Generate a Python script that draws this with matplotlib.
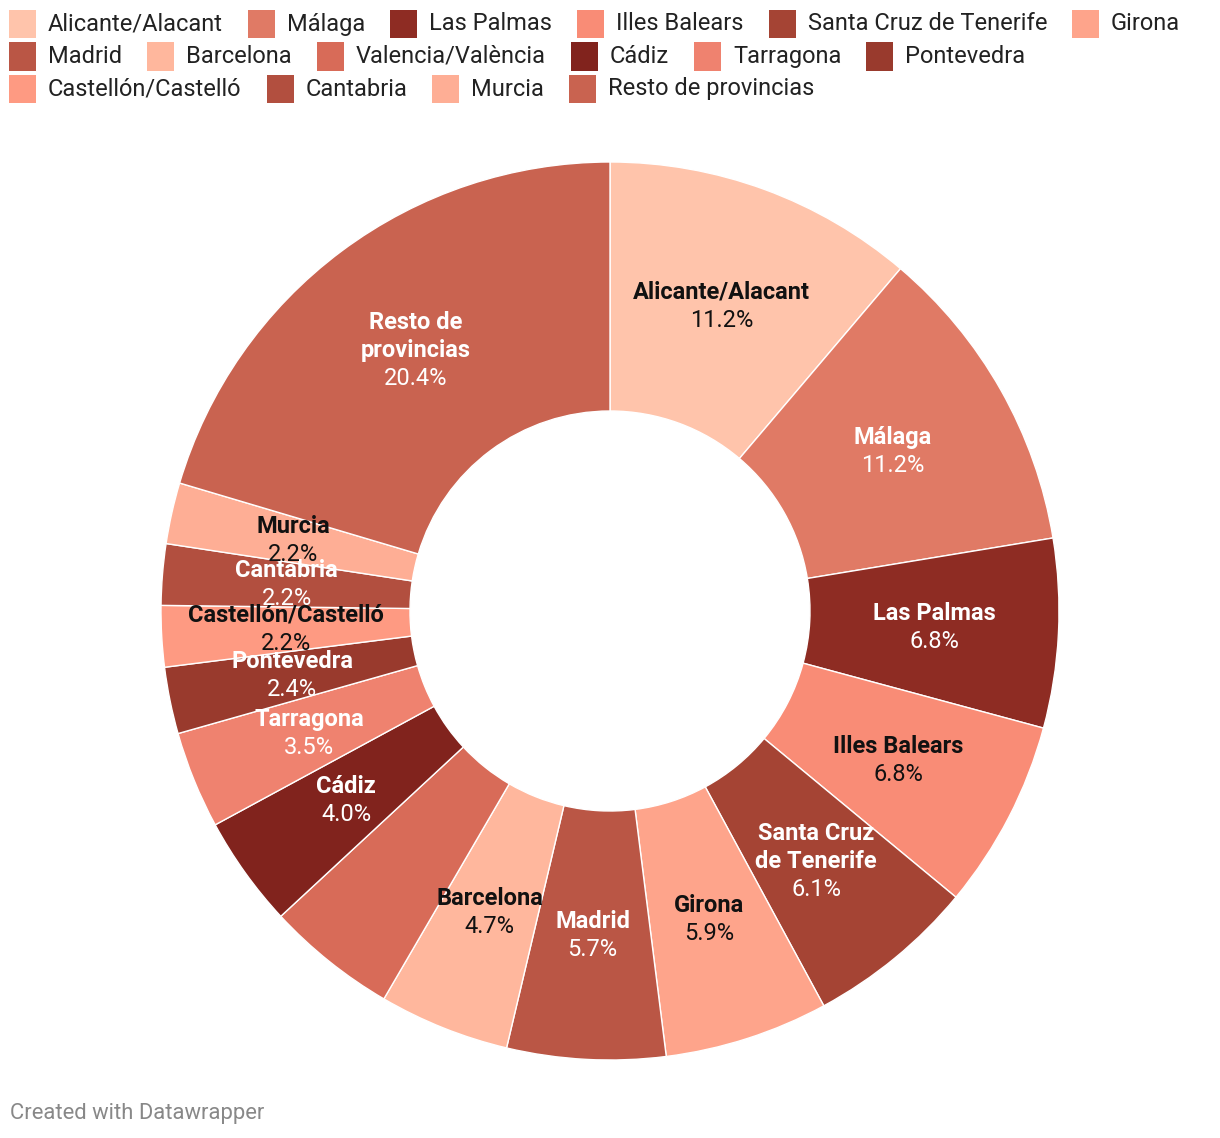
import matplotlib
matplotlib.use("Agg")
import matplotlib.pyplot as plt
from matplotlib.patches import Rectangle
import numpy as np

# ---------------- data ----------------
provinces = ["Alicante/Alacant", "Málaga", "Las Palmas", "Illes Balears",
             "Santa Cruz de Tenerife", "Girona", "Madrid", "Barcelona",
             "Valencia/València", "Cádiz", "Tarragona", "Pontevedra",
             "Castellón/Castelló", "Cantabria", "Murcia", "Resto de provincias"]
shares = [11.2, 11.2, 6.8, 6.8, 6.1, 5.9, 5.7, 4.7, 4.7, 4.0, 3.5, 2.4,
          2.2, 2.2, 2.2, 20.4]
# labels as shown on the slices (None = no label shown)
slice_labels = ["Alicante/Alacant", "Málaga", "Las Palmas", "Illes Balears",
                "Santa Cruz\nde Tenerife", "Girona", "Madrid", "Barcelona",
                None, "Cádiz", "Tarragona", "Pontevedra",
                "Castellón/Castelló", "Cantabria", "Murcia", "Resto de\nprovincias"]

# ---------------- style ----------------
colors = ["#ffc4ab", "#e07a65", "#8e2c23", "#f98c76", "#a54434", "#fea48b",
          "#ba5645", "#ffb79d", "#d86b58", "#81231d", "#ef826f", "#993a2d",
          "#fe9a82", "#b24f3f", "#feae95", "#c96350"]
text_colors = ["#111111", "white", "white", "#111111", "white", "#111111",
               "white", "#111111", "white", "white", "white", "white",
               "#111111", "white", "#111111", "white"]

plt.rcParams['font.family'] = ['Roboto', 'DejaVu Sans']

W, H = 1220, 1138
DPI = 100
fig = plt.figure(figsize=(W / DPI, H / DPI), dpi=DPI)
fig.patch.set_facecolor("white")

# donut geometry in pixels
cx, cy, R, r_in = 610, 611, 449, 200
ax = fig.add_axes([(cx - R) / W, (H - cy - R) / H, 2 * R / W, 2 * R / H])

ring = 1 - r_in / R
wedges, _ = ax.pie(shares, colors=colors, startangle=90, counterclock=False,
                   radius=1, wedgeprops=dict(width=ring, edgecolor="white",
                                             linewidth=1.0))
ax.set_xlim(-1, 1)
ax.set_ylim(-1, 1)
ax.set_aspect("equal")
ax.axis("off")

label_r = (1 + r_in / R) / 2
line_px = 28
for w, lab, val, tc in zip(wedges, slice_labels, shares, text_colors):
    if lab is None:
        continue
    ang = np.deg2rad((w.theta1 + w.theta2) / 2)
    x, y = label_r * np.cos(ang), label_r * np.sin(ang)
    lines = lab.split("\n")
    n = len(lines) + 1
    for i, ln in enumerate(lines):
        off = ((n - 1) / 2 - i) * line_px
        ax.annotate(ln, (x, y), xytext=(0, off), textcoords="offset pixels",
                    ha="center", va="center", fontsize=17, fontweight="bold",
                    color=tc)
    off = ((n - 1) / 2 - (n - 1)) * line_px
    ax.annotate(f"{val:.1f}%", (x, y), xytext=(0, off), textcoords="offset pixels",
                ha="center", va="center", fontsize=17, color=tc)

# ---------------- legend (flow layout) ----------------
renderer = fig.canvas.get_renderer()
sq_w, sq_h = 27, 28
gap_txt, gap_item = 12, 25
x0, row_y0, row_h = 9, 24, 32.5
x, row = x0, 0
for name, col in zip(provinces, colors):
    t = fig.text(0, 0, name, fontsize=17.0, color="#222222", va="center", ha="left")
    tw = t.get_window_extent(renderer).width
    if x + sq_w + gap_txt + tw > W - 10 and x > x0:
        row += 1
        x = x0
    yc = row_y0 + row * row_h
    fig.patches.append(Rectangle(((x) / W, (H - yc - sq_h / 2) / H), sq_w / W, sq_h / H,
                                 transform=fig.transFigure, facecolor=col,
                                 edgecolor="none"))
    t.set_position(((x + sq_w + gap_txt) / W, (H - yc) / H))
    x += sq_w + gap_txt + tw + gap_item

fig.text(10 / W, (H - 1113) / H, "Created with Datawrapper", fontsize=15.8,
         color="#888888", ha="left", va="center")

fig.savefig("out.png", dpi=DPI)
